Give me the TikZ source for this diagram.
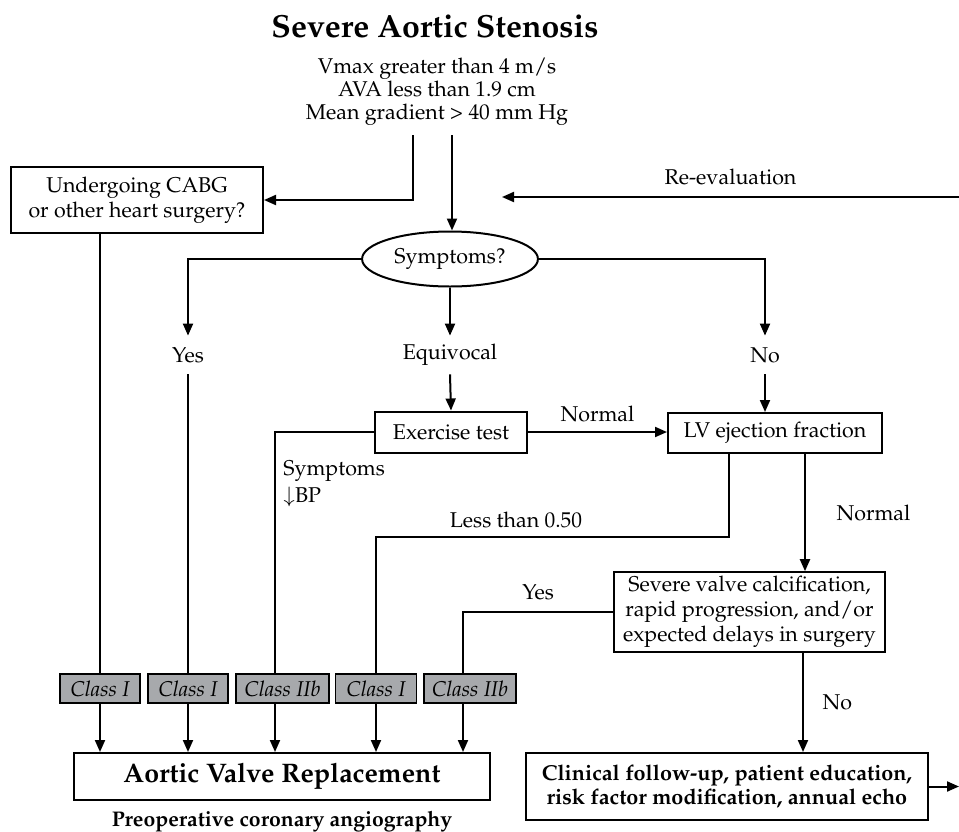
\documentclass[tikz,border=0pt]{standalone}
\usepackage[T1]{fontenc}
\usepackage{mathpazo}
\usetikzlibrary{arrows.meta, shapes.geometric}

\definecolor{classgray}{RGB}{167,169,172}
\newcommand\chartfont{\fontsize{10.7}{12.4}\selectfont}
\newcommand\titlefont{\fontsize{16}{18}\selectfont\bfseries}

\tikzset{
  box/.style={draw, line width=1pt, align=center, font=\chartfont, inner sep=2pt},
  classbox/.style={draw, line width=0.6pt, fill=classgray, font=\chartfont\itshape, minimum height=14.5pt, inner sep=1pt},
  lbl/.style={font=\chartfont, minimum height=19pt, inner sep=0pt},
  link/.style={line width=1pt},
  arr/.style={link, -{Triangle[length=6pt, width=5pt]}},
}

\begin{document}
\begin{tikzpicture}[x=0.5pt, y=-0.5pt]
    \useasboundingbox (0,0) rectangle (959,831);

    % heading
    \node[font=\titlefont] (title) at (435,26) {Severe Aortic Stenosis};
    \node[font=\fontsize{10.7}{11.6}\selectfont, align=center] (crit) at (437,92) {Vmax greater than 4 m/s\\AVA less than 1.9 cm\\Mean gradient > 40 mm Hg};
    \coordinate (critl) at (413,135);
    \coordinate (critr) at (452,135);

    % decisions
    \node[box, minimum width=126pt, minimum height=33pt] (cabg) at (137,200) {Undergoing CABG\\or other heart surgery?};
    \node[draw, ellipse, line width=1pt, font=\chartfont, minimum width=83pt, minimum height=27.5pt] (sym) at (450,259) {Symptoms?};
    \node[lbl] (yes) at (188,355) {Yes};
    \node[lbl] (equiv) at (450,355) {Equivocal};
    \node[lbl] (no) at (765,355) {No};
    \node[box, minimum width=76pt, minimum height=20.5pt] (ex) at (451,432) {Exercise test};
    \node[box, minimum width=107pt, minimum height=20pt] (lv) at (775,433) {LV ejection fraction};
    \node[box, minimum width=135.5pt, minimum height=40pt, line width=0.8pt, inner sep=1pt] (sev) at (749.5,612) {Severe valve calcification,\\rapid progression, and/or\\expected delays in surgery};

    % classes
    \node[classbox, minimum width=40pt] (c1) at (100,688.5) {Class I};
    \node[classbox, minimum width=40pt] (c2) at (188,688.5) {Class I};
    \node[classbox, minimum width=46.5pt] (c3) at (282.5,688.5) {Class IIb};
    \node[classbox, minimum width=40.5pt] (c4) at (376,688.5) {Class I};
    \node[classbox, minimum width=46pt] (c5) at (470,688.5) {Class IIb};

    % outcomes
    \node[box, minimum width=208pt, minimum height=23.5pt, font=\fontsize{13.4}{15}\selectfont\bfseries] (avr) at (282,776.5) {Aortic Valve Replacement};
    \node[font=\fontsize{10.6}{12}\selectfont\bfseries] (angio) at (282,822) {Preoperative coronary angiography};
    \node[box, minimum width=201pt, minimum height=33.5pt, font=\fontsize{10.8}{12.2}\selectfont\bfseries] (clin) at (727,786.5) {Clinical follow-up, patient education,\\risk factor modification, annual echo};

    % loop back
    \coordinate (reevr) at (959,197);
    \coordinate (reevl) at (502,197);
    \coordinate (rim) at (959,787);
    \coordinate (lowbend) at (729,537);

    \draw[arr] (critl) |- (cabg.east);
    \draw[arr] (critr) -- (critr |- sym.north);
    \draw[arr] (reevr) -- node[above=2pt, font=\chartfont]{Re-evaluation} (reevl);

    \draw[arr] (sym.west) -| (yes.north);
    \draw[arr] (sym.south) -- (equiv.north);
    \draw[arr] (sym.east) -| (no.north);

    \draw[arr] (equiv.south) -- (ex.north);
    \draw[arr] (no.south) -- (no.south |- lv.north);
    \draw[arr] (ex.east) -- node[above=1pt, font=\chartfont]{Normal} (ex.east -| lv.west);

    \draw[link] (cabg.south -| c1.north) -- (c1.north);
    \draw[link] (yes.south) -- (c2.north);
    \draw[link] (ex.west) -| ([xshift=-3.75pt]c3.north);
    \node[font=\chartfont, align=left, anchor=north west, inner sep=0pt] (drop) at (283,460) {Symptoms\\[1pt]$\downarrow$BP};
    \draw[link] (lv.south -| lowbend) -- (lowbend) -| (c4.north);
    \node[font=\chartfont] (lowef) at (516,520) {Less than 0.50};
    \draw[arr] ([xshift=15pt]lv.south) -- node[right=12pt, font=\chartfont]{Normal} ([xshift=15pt]lv.south |- sev.north);
    \draw[link] (sev.west) -| node[pos=0.25, above=2pt, font=\chartfont]{Yes} ([xshift=-3.5pt]c5.north);
    \draw[arr] ([xshift=26.75pt]sev.south) -- node[right=6pt, font=\chartfont]{No} ([xshift=26.75pt]sev.south |- clin.north);

    \foreach \c/\s in {c1/0pt,c2/0pt,c3/-3.75pt,c4/0pt,c5/-3.5pt}
        \draw[arr] ([xshift=\s]\c.south) -- ([xshift=\s]\c.south |- avr.north);

    \draw[arr] (clin.east) -- (clin.east -| rim);

\end{tikzpicture}
\end{document}
